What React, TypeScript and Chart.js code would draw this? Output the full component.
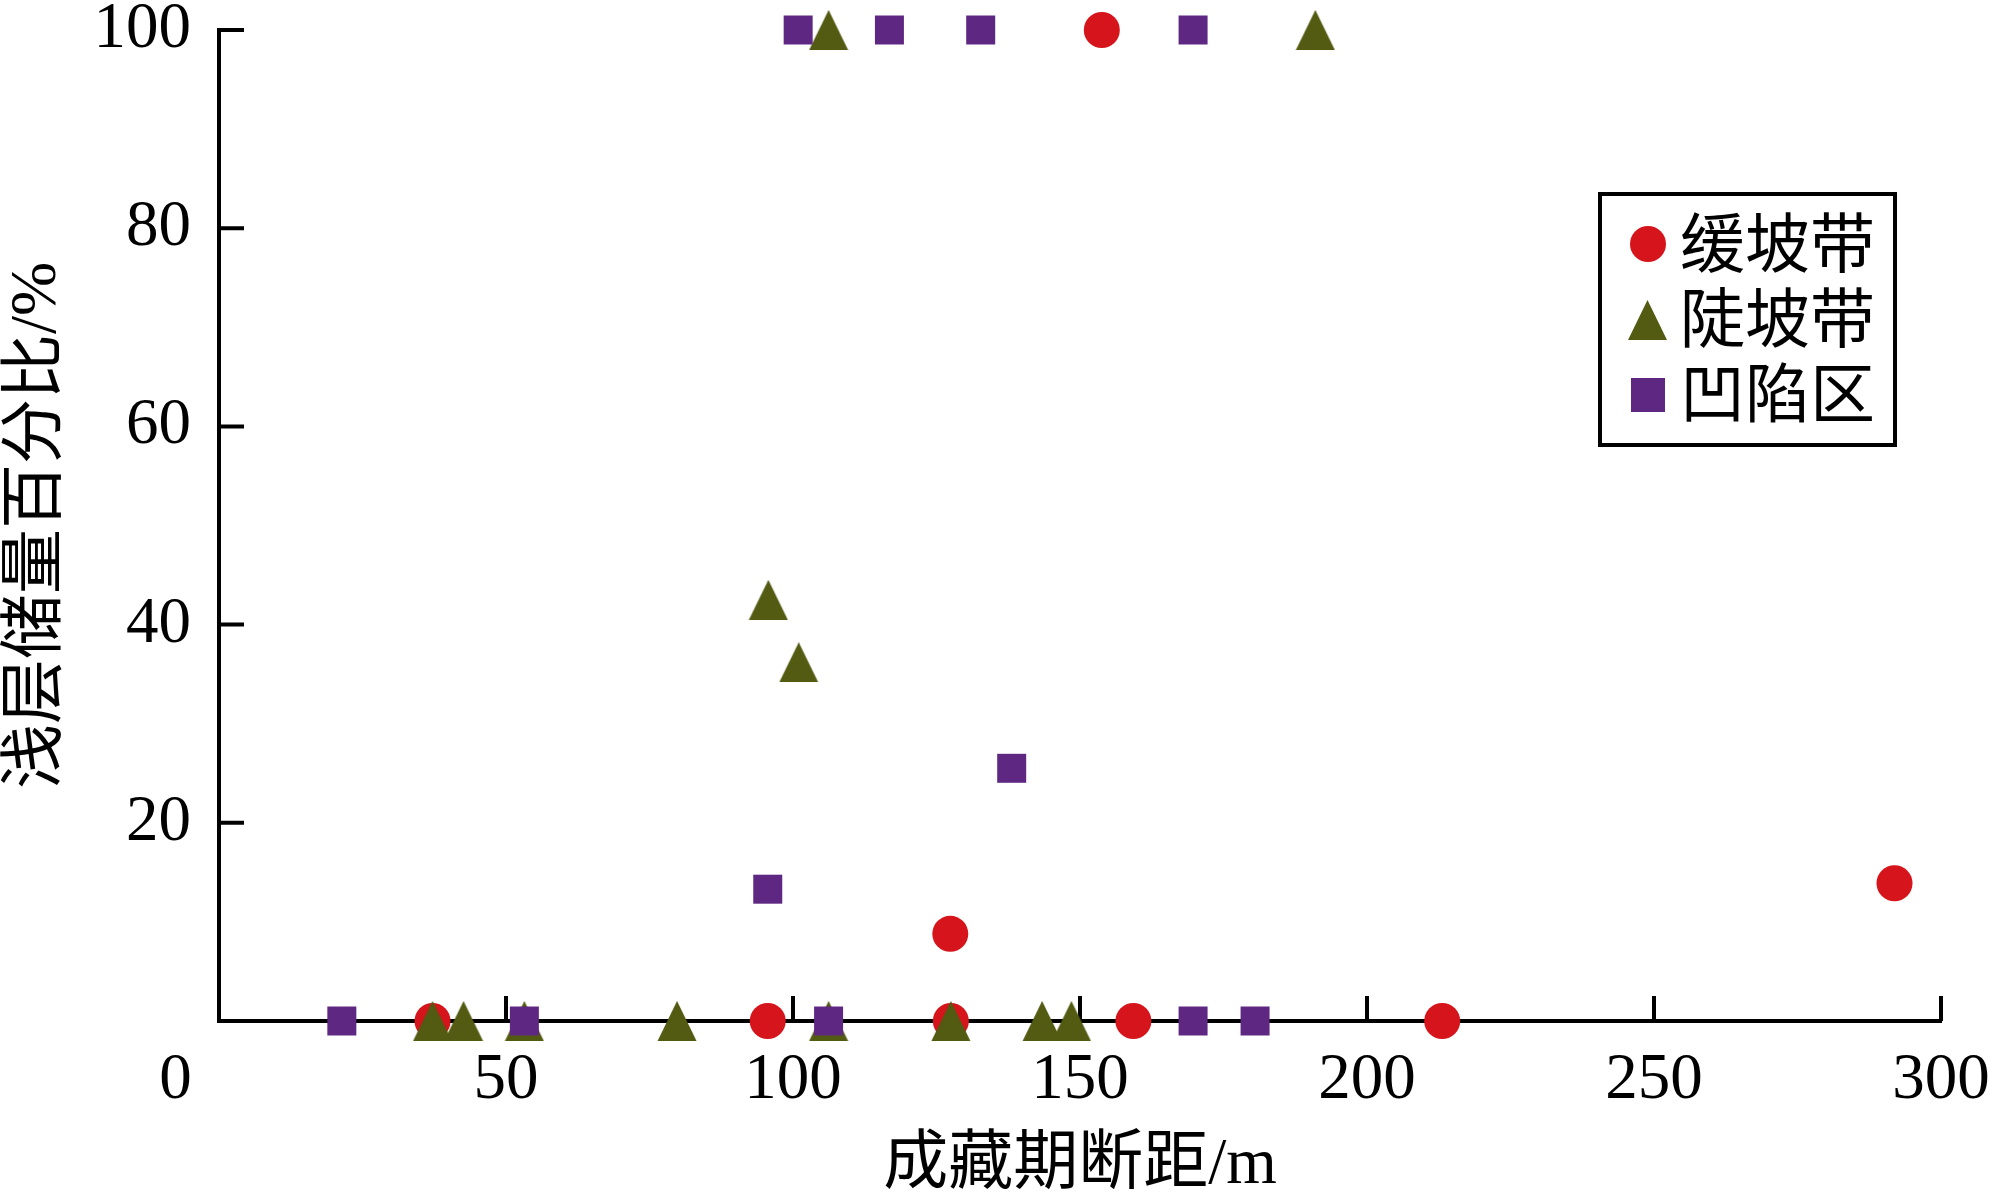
import React, { useEffect, useRef } from 'react';
import { Chart, registerables } from 'chart.js';

Chart.register(...registerables);

// ---- data ----
const SERIES_NAMES = ['缓坡带', '陡坡带', '凹陷区'];

const gentleX = [37.2, 95.6, 127.4, 127.5, 153.8, 159.3, 213.1, 291.9];
const gentleY = [0, 0, 8.8, 0, 100, 0, 0, 13.9];

const steepX = [37.2, 42.6, 53.2, 79.8, 95.7, 101.0, 106.2, 106.2, 127.5, 143.4, 148.5, 191.0];
const steepY = [0, 0, 0, 0, 42.5, 36.2, 0, 100, 0, 0, 0, 100];

const sagX = [21.4, 53.2, 95.6, 100.9, 106.2, 116.8, 132.7, 138.1, 169.7, 169.7, 180.5];
const sagY = [0, 0, 13.3, 100, 0, 100, 100, 25.5, 0, 100, 0];

const X_MIN = 0;
const X_MAX = 300;
const X_STEP = 50;
const Y_MIN = 0;
const Y_MAX = 100;
const Y_STEP = 20;
const ORIGIN_LABEL = '0';
const X_TITLE = '成藏期断距/m';
const Y_TITLE = '浅层储量百分比/%';

const COLORS = ['#D5141B', '#535A12', '#5E2782'];
const FONT = "'Liberation Serif', 'Noto Sans CJK SC', serif";
const TICK_SIZE = 65;

const inwardTicks = {
  id: 'inwardTicks',
  beforeDatasetsDraw(chart: any) {
    const { ctx, chartArea, scales } = chart;
    const x = scales.x;
    const y = scales.y;
    ctx.save();
    ctx.strokeStyle = '#000';
    ctx.lineWidth = 4;
    ctx.beginPath();
    for (const t of x.ticks) {
      if (t.value === X_MIN) continue;
      const px = x.getPixelForValue(t.value);
      ctx.moveTo(px, chartArea.bottom);
      ctx.lineTo(px, chartArea.bottom - 25);
    }
    for (const t of y.ticks) {
      if (t.value === Y_MIN) continue;
      const py = y.getPixelForValue(t.value);
      ctx.moveTo(chartArea.left, py);
      ctx.lineTo(chartArea.left + 25, py);
    }
    ctx.stroke();
    ctx.fillStyle = '#000';
    ctx.font = `${TICK_SIZE}px ${FONT}`;
    ctx.textAlign = 'center';
    ctx.textBaseline = 'middle';
    ctx.fillText(ORIGIN_LABEL, chartArea.left - 43.5, chartArea.bottom + 59.5);
    ctx.restore();
  },
};

export default function App() {
  const ref = useRef<HTMLCanvasElement>(null);

  useEffect(() => {
    const tri = document.createElement('canvas');
    tri.width = 40;
    tri.height = 40;
    const tctx = tri.getContext('2d')!;
    tctx.fillStyle = COLORS[1];
    tctx.beginPath();
    tctx.moveTo(20, 0);
    tctx.lineTo(39.5, 40);
    tctx.lineTo(0.5, 40);
    tctx.closePath();
    tctx.fill();

    const pts = (xs: number[], ys: number[]) => xs.map((v, i) => ({ x: v, y: ys[i] }));

    const chart = new Chart(ref.current!, {
      type: 'scatter',
      data: {
        datasets: [
          {
            label: SERIES_NAMES[0],
            data: pts(gentleX, gentleY),
            pointStyle: 'circle',
            pointRadius: 18,
            backgroundColor: COLORS[0],
            borderWidth: 0,
            order: 3,
            clip: false,
          },
          {
            label: SERIES_NAMES[1],
            data: pts(steepX, steepY),
            pointStyle: tri,
            pointRadius: 20,
            backgroundColor: COLORS[1],
            borderWidth: 0,
            order: 2,
            clip: false,
          },
          {
            label: SERIES_NAMES[2],
            data: pts(sagX, sagY),
            pointStyle: 'rect',
            pointRadius: 20.5,
            backgroundColor: COLORS[2],
            borderWidth: 0,
            order: 1,
            clip: false,
          },
        ],
      } as any,
      options: {
        responsive: false,
        animation: false,
        devicePixelRatio: 1,
        layout: { autoPadding: false, padding: { left: 0, top: 30, right: 49, bottom: 0 } },
        plugins: { legend: { display: false }, tooltip: { enabled: false } },
        scales: {
          x: {
            type: 'linear',
            min: X_MIN,
            max: X_MAX,
            afterFit: (s: any) => {
              s.height = 181;
              s.paddingLeft = 0;
              s.paddingRight = 0;
            },
            border: { display: true, color: '#000', width: 4 },
            grid: { drawOnChartArea: false, drawTicks: false },
            ticks: {
              stepSize: X_STEP,
              padding: 27,
              color: '#000',
              autoSkip: false,
              maxRotation: 0,
              font: { family: FONT, size: TICK_SIZE, lineHeight: 1 },
              callback: (v: any) => (v === X_MIN ? '' : String(v)),
            },
            title: {
              display: true,
              text: X_TITLE,
              color: '#000',
              font: { family: FONT, size: 65, lineHeight: 1 },
              padding: { top: 0, bottom: 4 },
            },
          },
          y: {
            type: 'linear',
            min: Y_MIN,
            max: Y_MAX,
            afterFit: (s: any) => {
              s.width = 219;
              s.paddingTop = 0;
              s.paddingBottom = 0;
            },
            border: { display: true, color: '#000', width: 4 },
            grid: { drawOnChartArea: false, drawTicks: false },
            ticks: {
              stepSize: Y_STEP,
              padding: 28,
              color: '#000',
              font: { family: FONT, size: TICK_SIZE, lineHeight: 1 },
              callback: (v: any) => (v === Y_MIN ? '' : String(v)),
            },
            title: {
              display: true,
              text: Y_TITLE,
              color: '#000',
              font: { family: FONT, size: 65, lineHeight: 1 },
              padding: { top: 5, bottom: 0 },
            },
          },
        },
      } as any,
      plugins: [inwardTicks],
    });
    return () => chart.destroy();
  }, []);

  const textStyle: React.CSSProperties = {
    position: 'absolute',
    left: 1680,
    fontFamily: FONT,
    fontSize: 65,
    lineHeight: '65px',
    color: '#000',
    whiteSpace: 'nowrap',
  };

  return (
    <div style={{ position: 'fixed', left: 0, top: 0, width: 1990, height: 1202, background: '#fff' }}>
      <canvas ref={ref} width={1990} height={1202} style={{ display: 'block', width: 1990, height: 1202 }} />
      <div
        style={{
          position: 'absolute',
          left: 1598,
          top: 192,
          width: 299,
          height: 255,
          border: '4px solid #000',
          boxSizing: 'border-box',
        }}
      />
      <div style={{ position: 'absolute', left: 1630, top: 226, width: 36, height: 36, borderRadius: '50%', background: COLORS[0] }} />
      <svg style={{ position: 'absolute', left: 1628, top: 300 }} width={39} height={40}>
        <polygon points="19.5,0 39,40 0,40" fill={COLORS[1]} />
      </svg>
      <div style={{ position: 'absolute', left: 1631, top: 378, width: 34, height: 34, background: COLORS[2] }} />
      <div style={{ ...textStyle, top: 213 }}>{SERIES_NAMES[0]}</div>
      <div style={{ ...textStyle, top: 288 }}>{SERIES_NAMES[1]}</div>
      <div style={{ ...textStyle, top: 363 }}>{SERIES_NAMES[2]}</div>
    </div>
  );
}
